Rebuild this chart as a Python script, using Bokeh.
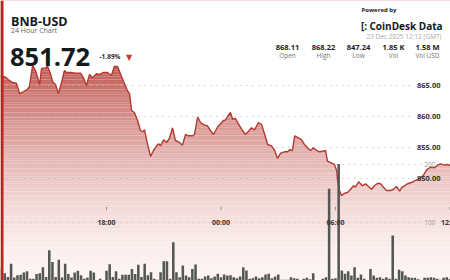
import numpy as np
from datetime import datetime, timedelta
from bokeh.plotting import figure
from bokeh.models import Range1d, Label, BoxAnnotation, ColumnDataSource
from bokeh.core.properties import value
from bokeh.embed import file_html
from bokeh.resources import INLINE

# ---------------- data ----------------
symbol = "BNB-USD"
subtitle = "24 Hour Chart"
last_price = "851.72"
change_pct = "-1.89%"
stamp = "23 Dec 2025 12:12 (GMT)"
stat_values = ["868.11", "868.22", "847.24", "1.85 K", "1.58 M"]
stat_names = ["Open", "High", "Low", "Vol", "Vol USD"]

chart_start = datetime(2025, 12, 22, 12, 26, 40)
chart_minutes = 1415

price_minutes = [0, 6, 16, 25, 38, 50, 60, 75, 85, 91, 101, 110, 123, 129, 142, 148, 157, 164, 173, 182,
                 192, 201, 208, 220, 236, 252, 261, 270, 280, 289, 302, 311, 324, 336, 349, 358, 368, 377,
                 390, 399, 406, 412, 421, 431, 440, 447, 453, 462, 472, 481, 491, 497, 503, 513, 522, 531,
                 541, 550, 563, 572, 582, 591, 604, 610, 620, 629, 642, 651, 660, 670, 682, 692, 701, 708,
                 714, 723, 730, 739, 748, 761, 770, 780, 789, 799, 811, 821, 830, 840, 852, 862, 871, 881,
                 893, 903, 909, 918, 925, 937, 947, 956, 965, 975, 984, 994, 1003, 1013, 1022, 1028, 1041,
                 1050, 1057, 1060, 1066, 1072, 1082, 1091, 1101, 1110, 1116, 1126, 1132, 1138, 1148, 1157,
                 1167, 1176, 1186, 1195, 1204, 1214, 1226, 1236, 1245, 1255, 1261, 1270, 1280, 1292, 1305,
                 1318, 1330, 1340, 1352, 1365, 1374, 1384, 1396, 1406, 1415]
prices = [866.50, 866.45, 866.34, 865.92, 865.48, 865.37, 863.66, 864.08, 864.40, 864.84, 868.22, 867.42,
          865.16, 867.74, 867.85, 868.10, 866.89, 865.60, 865.16, 863.66, 865.48, 867.42, 867.10, 867.10,
          866.98, 866.98, 866.24, 864.95, 866.77, 866.24, 866.89, 866.77, 867.10, 867.10, 866.66, 868.06,
          868.06, 866.89, 865.27, 864.19, 863.66, 860.97, 860.65, 859.35, 857.74, 857.53, 857.85, 855.60,
          853.55, 854.52, 855.27, 855.60, 855.27, 856.24, 855.81, 856.45, 858.18, 856.13, 855.81, 855.37,
          857.10, 856.89, 856.89, 857.10, 859.89, 859.03, 858.60, 858.50, 857.74, 857.10, 858.27, 858.82,
          859.35, 859.47, 860.00, 860.65, 859.56, 859.68, 858.82, 857.74, 857.10, 857.63, 858.18, 857.85,
          859.03, 858.71, 857.21, 855.48, 855.27, 854.52, 853.23, 854.08, 854.31, 854.31, 854.63, 854.52,
          856.89, 856.56, 856.24, 855.48, 854.95, 854.52, 854.95, 854.52, 854.31, 854.40, 854.52, 852.79,
          852.50, 852.26, 851.29, 849.68, 848.06, 847.24, 847.63, 847.74, 848.27, 848.82, 848.60, 849.47,
          849.15, 848.82, 849.15, 848.71, 848.27, 848.82, 849.24, 849.15, 848.60, 848.06, 848.06, 848.27,
          848.71, 847.95, 848.50, 848.82, 849.15, 849.35, 849.68, 850.00, 850.53, 851.40, 851.82, 851.73,
          852.15, 852.37, 852.15, 852.26, 852.10]

vol_start = datetime(2025, 12, 22, 12, 30)
vol_step_minutes = 10
volumes = [22, 12.6, 6, 29, 5, 9, 10, 14, 16, 3, 3, 11, 12.6, 23, 6, 52, 32, 6, 35.6, 5, 29, 11, 5, 14, 17,
           9, 3, 5, 17, 14, 1, 3, 1, 17, 28, 6, 16, 3, 10, 10, 10, 20, 11, 27, 6, 29, 9,
           14.4, 2.9, 1.1, 14.4, 33.3, 33.3, 2.9, 66, 14.4, 5.7, 25.9, 8.6, 5.7, 20, 27.6, 2.9, 2.9, 6.9,
           8.6, 4, 6.9, 11.5, 5.7, 10.3, 8.6, 9.2, 5.7, 4, 6.9, 23, 17.2, 2.9, 4, 6.9, 4, 5.7, 10.3, 11.5,
           4, 6.9, 10.3, 1.1, 1.1, 1.1, 5.7, 4, 2.9, 1,
           2.9, 4.6, 2, 12.6, 1, 1, 2.9, 5.7, 158, 2.9, 4, 201, 17.2, 11.5, 16, 8.6, 23, 4.6, 10.3, 2.9, 1,
           20, 8.6, 4.6, 5.7, 2.9, 5.7, 2.9, 77.6, 2.9, 18.4, 16, 8.6, 5.7, 4.6, 4.6, 2.3, 1, 4.6, 4.6,
           5.7, 4.6, 2.9, 1.1, 4.6, 5.7, 3]

price_ticks = [850, 855, 860, 865]
vol_ticks = [100, 200]
time_ticks = [datetime(2025, 12, 22, 18, 0), datetime(2025, 12, 23, 0, 0),
              datetime(2025, 12, 23, 6, 0), datetime(2025, 12, 23, 12, 0)]
time_labels = ["18:00", "00:00", "06:00", "12:00"]

# ---------------- helpers ----------------
EPOCH = datetime(1970, 1, 1)


def ms(dt):
    return (dt - EPOCH).total_seconds() * 1000.0


W, H = 450, 280
x0 = ms(chart_start)
x1 = ms(chart_start + timedelta(minutes=chart_minutes))
P_LO, P_HI = 833.55, 878.71
V_HI = 482.8


def px_to_x(px):
    return x0 + (x1 - x0) * px / W


FONT = "Open Sans"

p = figure(width=W, height=H, x_axis_type="datetime", output_backend="svg", toolbar_location=None,
           x_range=Range1d(x0, x1), y_range=Range1d(P_LO, P_HI),
           x_axis_location=None, y_axis_location=None, min_border=0,
           outline_line_color=None, background_fill_color="white", border_fill_color="white")
p.extra_y_ranges = {"vol": Range1d(0, V_HI)}
p.xgrid.visible = False
p.ygrid.visible = False

# gradient background (fill under the line)
n_bands = 110
edges = np.linspace(P_LO, P_HI, n_bands + 1)
top_c = np.array([192, 88, 82])
bot_c = np.array([253, 244, 243])
cols = []
for i in range(n_bands):
    yc = 0.5 * (edges[i] + edges[i + 1])
    t = np.clip((yc - P_LO) / (868.5 - P_LO), 0, 1) ** 1.6
    c = bot_c + (top_c - bot_c) * t
    cols.append("#%02x%02x%02x" % tuple(int(round(v)) for v in c))
p.quad(left=x0, right=x1, bottom=edges[:-1], top=edges[1:], fill_color=cols, line_color=None)

ptimes = [ms(chart_start + timedelta(minutes=m)) for m in price_minutes]
src = ColumnDataSource(dict(x=ptimes, y=prices))
# white mask above line
p.varea(x="x", y1="y", y2=P_HI, source=src, fill_color="white")

# gridlines
gx_end_p = px_to_x(414)
gx_end_v = px_to_x(426)
p.segment(x0=[x0] * len(price_ticks), x1=[gx_end_p] * len(price_ticks), y0=price_ticks, y1=price_ticks,
          line_color="#b8b8b8", line_width=1, line_dash="1 5")
p.segment(x0=[x0] * len(vol_ticks), x1=[gx_end_v] * len(vol_ticks), y0=vol_ticks, y1=vol_ticks,
          y_range_name="vol", line_color="#b8b8b8", line_width=1, line_dash="1 5")

# volume tick labels
for v in vol_ticks:
    p.add_layout(Label(x=435, y=v, x_units="screen", y_units="data", y_range_name="vol", text=str(v),
                       text_font=FONT, text_font_size="6.5px", text_color="#9a9a9a",
                       text_align="right", text_baseline="middle"))

# time ticks & labels
tt = [ms(t) for t in time_ticks]
p.segment(x0=tt, x1=tt, y0=[121] * len(tt), y1=[127] * len(tt), y_range_name="vol",
          line_color="#999999", line_width=1)
for t, lab_ in zip(tt, time_labels):
    p.add_layout(Label(x=t, y=H - 222, x_units="data", y_units="screen", text=lab_,
                       text_font=FONT, text_font_size="7px", text_font_style="bold", text_color="#333333",
                       text_align="center", text_baseline="alphabetic"))

# price line
p.line(x="x", y="y", source=src, line_color="#b23a30", line_width=1.4)

# volume bars
vtimes = [ms(vol_start + timedelta(minutes=vol_step_minutes * i)) for i in range(len(volumes))]
p.vbar(x=vtimes, top=volumes, bottom=0, width=8 * 60 * 1000, y_range_name="vol",
       fill_color="#535855", line_color=None)

# price tick labels
for v in price_ticks:
    p.add_layout(Label(x=440, y=v, x_units="screen", y_units="data", text=f"{v:.2f}",
                       text_font=FONT, text_font_size="7.5px", text_font_style="bold", text_color="#333333",
                       text_align="right", text_baseline="middle"))

# left red border
p.add_layout(BoxAnnotation(left=0, right=3, left_units="screen", right_units="screen",
                           fill_color="#b3271d", fill_alpha=1, line_color=None))


def lab(x, y, text, size, color, bold=False, align="left", font=FONT):
    p.add_layout(Label(x=x, y=H - y, x_units="screen", y_units="screen", text=text,
                       text_font=font, text_font_size=size,
                       text_font_style="bold" if bold else "normal", text_color=color,
                       text_align=align, text_baseline="alphabetic"))


lab(10.5, 20.7, symbol, "12.5px", "#151a1e", bold=True)
lab(10.5, 29.5, subtitle, "7px", "#666666")
lab(9.5, 56.7, last_price, "25.5px", "#151a1e", bold=True)
lab(99, 56, change_pct, "6.5px", "#3a2a2a", bold=True)
lab(128.5, 56.5, "▼", "8px", "#c0392b", align="center", font="DejaVu Sans")

lab(361, 9.3, "Powered by", "6px", "#222222", bold=True)
lab(360.5, 25, "[:", "10px", "#151a1e", bold=True)
lab(369, 25, "CoinDesk Data", "10px", "#151a1e", bold=True)
lab(441, 35.7, stamp, "6.5px", "#aaaaaa", align="right")

stat_cx = [287, 323, 358, 393, 427]
for cx, v, n in zip(stat_cx, stat_values, stat_names):
    lab(cx, 46.7, v, "7.5px", "#222222", bold=True, align="center")
    lab(cx, 55.3, n, "6.5px", "#777777", align="center")

open("out.html", "w").write(file_html(p, INLINE))
